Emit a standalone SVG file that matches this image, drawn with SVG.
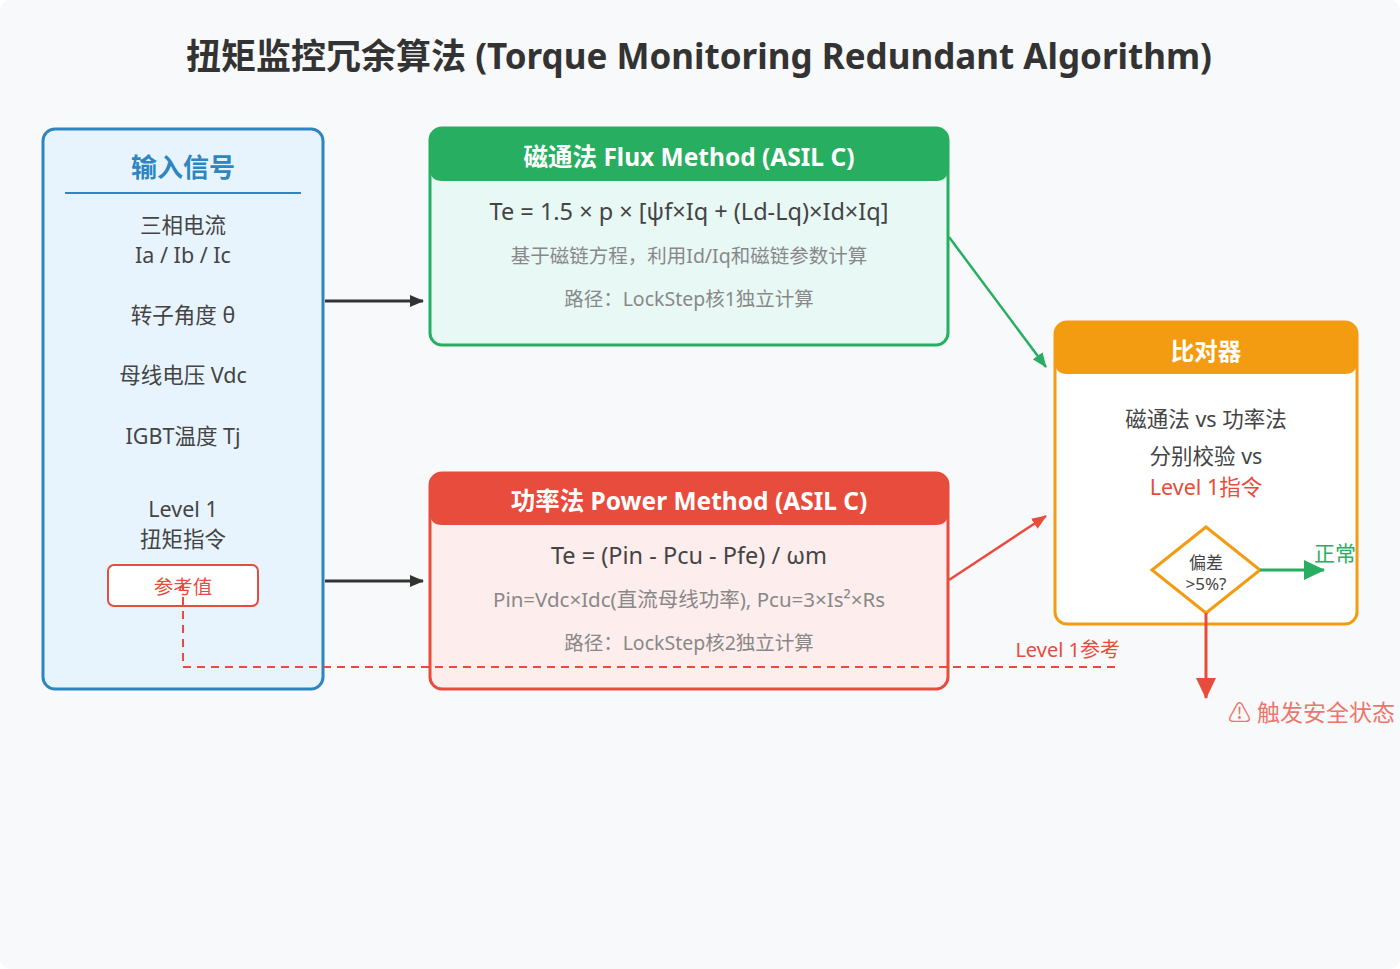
<svg xmlns="http://www.w3.org/2000/svg" width="1400" height="969" viewBox="0 0 1400 969">
<defs>
<style>
text{font-family:"Noto Sans","Noto Sans CJK SC",sans-serif;text-anchor:middle}
.title{font-size:35px;font-weight:bold;fill:#333333}
.hdr{font-size:24.5px;font-weight:bold;fill:#ffffff}
.in{font-size:21.5px;fill:#444444}
.fm{font-size:23.5px;fill:#444444}
.sub{font-size:19.5px;fill:#888888}
.red{fill:#e74c3c}
</style>
<marker id="ak" viewBox="0 0 14 12" refX="13" refY="6" markerWidth="14" markerHeight="12" markerUnits="userSpaceOnUse" orient="auto"><path d="M0,0 L14,6 L0,12 z" fill="#333333"/></marker>
<marker id="ag" viewBox="0 0 15 12" refX="14" refY="6" markerWidth="15" markerHeight="12" markerUnits="userSpaceOnUse" orient="auto"><path d="M0,0 L15,6 L0,12 z" fill="#27ae60"/></marker>
<marker id="ar" viewBox="0 0 15 12" refX="14" refY="6" markerWidth="15" markerHeight="12" markerUnits="userSpaceOnUse" orient="auto"><path d="M0,0 L15,6 L0,12 z" fill="#e74c3c"/></marker>
<marker id="agb" viewBox="0 0 21 20" refX="20" refY="10" markerWidth="21" markerHeight="20" markerUnits="userSpaceOnUse" orient="auto"><path d="M0,0 L21,10 L0,20 z" fill="#27ae60"/></marker>
<marker id="arb" viewBox="0 0 21 20" refX="20" refY="10" markerWidth="21" markerHeight="20" markerUnits="userSpaceOnUse" orient="auto"><path d="M0,0 L21,10 L0,20 z" fill="#e74c3c"/></marker>
</defs>
<rect x="0" y="0" width="1400" height="969" rx="10" fill="#f8f9fa"/>
<text class="title" x="699" y="69">扭矩监控冗余算法 (Torque Monitoring Redundant Algorithm)</text>

<g id="input">
<rect x="43" y="129" width="280" height="560" rx="12" fill="#e8f4fd" stroke="#2e86c1" stroke-width="3"/>
<text x="183" y="177" style="font-size:26px;font-weight:bold;fill:#2e86c1">输入信号</text>
<line x1="65" y1="193" x2="301" y2="193" stroke="#2e86c1" stroke-width="2"/>
<text class="in" x="183" y="233">三相电流</text>
<text class="in" x="183" y="263">Ia / Ib / Ic</text>
<text class="in" x="183" y="323">转子角度 θ</text>
<text class="in" x="183" y="383">母线电压 Vdc</text>
<text class="in" x="183" y="444">IGBT温度 Tj</text>
<text class="in" x="183" y="517">Level 1</text>
<text class="in" x="183" y="547">扭矩指令</text>
<rect x="108" y="565" width="150" height="41" rx="6" fill="#ffffff" stroke="#e74c3c" stroke-width="2"/>
<text x="183" y="594" style="font-size:19.5px;fill:#e74c3c">参考值</text>
</g>

<g id="flux">
<rect x="430" y="128" width="518" height="217" rx="12" fill="#e8f8f5" stroke="#27ae60" stroke-width="3"/>
<path d="M430,181 L430,140 Q430,128 442,128 L936,128 Q948,128 948,140 L948,169 Q948,181 936,181 L442,181 Q430,181 430,169 z" fill="#27ae60"/>
<text class="hdr" x="689" y="166">磁通法 Flux Method (ASIL C)</text>
<text class="fm" x="689" y="220">Te = 1.5 × p × [ψf×Iq + (Ld-Lq)×Id×Iq]</text>
<text class="sub" x="689" y="263">基于磁链方程，利用Id/Iq和磁链参数计算</text>
<text class="sub" x="689" y="306">路径：LockStep核1独立计算</text>
</g>

<g id="power">
<rect x="430" y="473" width="518" height="216" rx="12" fill="#fdedec" stroke="#e74c3c" stroke-width="3"/>
<path d="M430,525 L430,485 Q430,473 442,473 L936,473 Q948,473 948,485 L948,513 Q948,525 936,525 L442,525 Q430,525 430,513 z" fill="#e74c3c"/>
<text class="hdr" x="689" y="510">功率法 Power Method (ASIL C)</text>
<text class="fm" x="689" y="564">Te = (Pin - Pcu - Pfe) / ωm</text>
<text class="sub" x="689" y="607" style="font-size:20.5px">Pin=Vdc×Idc(直流母线功率), Pcu=3×Is²×Rs</text>
<text class="sub" x="689" y="650">路径：LockStep核2独立计算</text>
</g>

<g id="comparator">
<rect x="1055" y="322" width="302" height="302" rx="12" fill="#ffffff" stroke="#f39c12" stroke-width="3"/>
<path d="M1055,374 L1055,334 Q1055,322 1067,322 L1345,322 Q1357,322 1357,334 L1357,362 Q1357,374 1345,374 L1067,374 Q1055,374 1055,362 z" fill="#f39c12"/>
<text class="hdr" x="1206" y="360" style="font-size:23.5px">比对器</text>
<text class="in" x="1206" y="427">磁通法 vs 功率法</text>
<text class="in" x="1206" y="464">分别校验 vs</text>
<text class="in red" x="1206" y="495">Level 1指令</text>
</g>

<g id="decision">
<polygon points="1152,570 1206,527 1260,570 1206,613" fill="#ffffff" stroke="#f39c12" stroke-width="3"/>
<text x="1206" y="569" style="font-size:17px;fill:#444444">偏差</text>
<text x="1206" y="590" style="font-size:17px;fill:#444444">&gt;5%?</text>
</g>

<g id="connectors">
<line x1="325" y1="301" x2="423" y2="301" stroke="#333333" stroke-width="3" marker-end="url(#ak)"/>
<line x1="325" y1="581" x2="423" y2="581" stroke="#333333" stroke-width="3" marker-end="url(#ak)"/>
<line x1="949" y1="237" x2="1046" y2="367" stroke="#27ae60" stroke-width="2.5" marker-end="url(#ag)"/>
<line x1="949" y1="580" x2="1046" y2="516" stroke="#e74c3c" stroke-width="2.5" marker-end="url(#ar)"/>
<line x1="1260" y1="570" x2="1324" y2="570" stroke="#27ae60" stroke-width="3" marker-end="url(#agb)"/>
<text x="1314" y="561" style="font-size:21px;fill:#27ae60;text-anchor:start">正常</text>
<line x1="1206" y1="613" x2="1206" y2="698" stroke="#e74c3c" stroke-width="3" marker-end="url(#arb)"/>
<text x="1228" y="721" style="font-size:23px;fill:#e74c3c;opacity:0.75;text-anchor:start">⚠ 触发安全状态</text>
<path d="M183,583 L183,667 L1120,667" fill="none" stroke="#e74c3c" stroke-width="2" stroke-dasharray="8,6"/>
<text x="1120" y="657" style="font-size:20px;fill:#e74c3c;text-anchor:end">Level 1参考</text>
</g>
</svg>
